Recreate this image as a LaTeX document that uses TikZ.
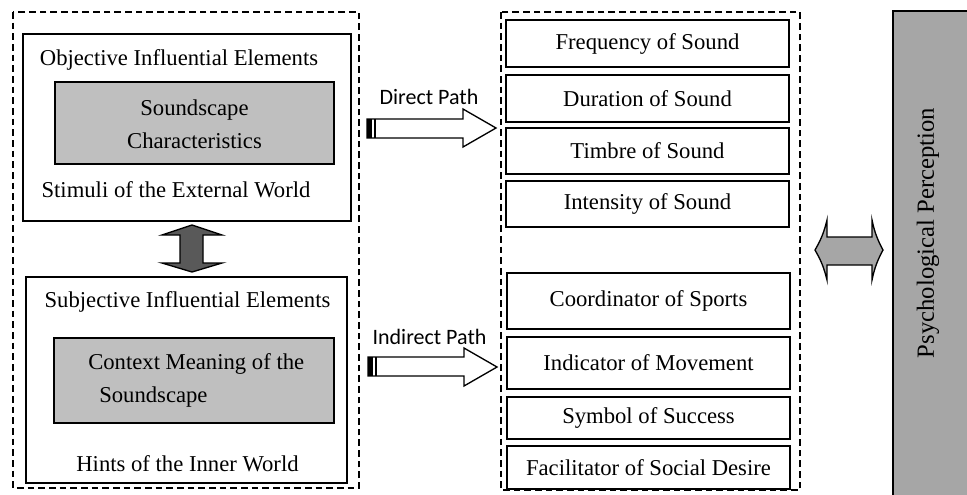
\documentclass[tikz,border=0pt]{standalone}
\usepackage{fontspec}
\setmainfont{Liberation Serif}
\newfontfamily\pathfont{Carlito}
\usetikzlibrary{positioning,calc}

\definecolor{coregray}{HTML}{BFBFBF}
\definecolor{linkgray}{HTML}{595959}
\definecolor{percgray}{HTML}{A6A6A6}

\begin{document}
\begin{tikzpicture}[x=0.75pt,y=-0.75pt,
    every node/.style={font=\fontsize{17}{24.75}\selectfont,inner sep=0pt},
    group/.style={draw,dashed,line width=0.9pt,dash pattern=on 5pt off 3pt},
    panel/.style={draw,line width=1pt},
    core/.style={draw,line width=1pt,fill=coregray},
    item/.style={draw,line width=1pt,minimum width=283*0.75pt},
    pathlabel/.style={font=\pathfont\fontsize{16.5}{20}\selectfont},
    blockarrow/.style={draw,line width=1pt,fill=white,line join=miter}]

  \useasboundingbox (0,0) rectangle (967,494);

  % Groups (dashed frames)
  \draw[group] (13,12) rectangle (359,488);
  \draw[group] (501,12) rectangle (800,490);

  % Objective elements
  \draw[panel] (23,34) rectangle (351,221);
  \draw[core] (55,82) rectangle (334,164);
  \node (objtitle) at (179,60) {Objective Influential Elements};
  \node[align=center] (soundchar) at (194.5,124) {Soundscape\\Characteristics};
  \node (stimuli) at (176,190) {Stimuli of the External World};

  % Subjective elements
  \draw[panel] (26,277) rectangle (347,483);
  \draw[core] (54,338) rectangle (334,423);
  \node (subtitle) at (187.5,302) {Subjective Influential Elements};
  \node[anchor=west] (ctxa) at (88,364) {Context Meaning of the};
  \node[anchor=west] (ctxb) at (99,397) {Soundscape};
  \node (hints) at (187.5,464) {Hints of the Inner World};

  % Link between the two kinds of elements
  \draw[line width=1pt,fill=linkgray,line join=miter]
    (180,235) -- (162,235) -- (192,225) -- (222,235) -- (203,235)
    -- (203,263) -- (222,263) -- (192,272) -- (162,263) -- (180,263) -- cycle;

  % Acoustic features
  \node[item,minimum height=47*0.75pt] (freq)  at (647.5,43.5) {Frequency of Sound};
  \node[item,minimum height=47*0.75pt] (dur)   at (647.5,98.5) {Duration of Sound};
  \node[item,minimum height=46*0.75pt] (timb)  at (647.5,151)  {Timbre of Sound};
  \node[item,minimum height=46*0.75pt] (inten) at (647.5,204)  {Intensity of Sound};

  % Functional meanings
  \node[item,minimum height=56*0.75pt] (coord) at (648.5,301)   {Coordinator of Sports};
  \node[item,minimum height=52*0.75pt] (indic) at (648.5,363)   {Indicator of Movement};
  \node[item,minimum height=42*0.75pt] (symb)  at (648.5,418)   {Symbol of Success};
  \node[item,minimum height=43*0.75pt] (facil) at (648.5,467.5) {Facilitator of Social Desire};

  % Direct path
  \draw[blockarrow] (367,119) -- (463,119) -- (463,109) -- (496,128)
    -- (463,147) -- (463,138) -- (367,138) -- cycle;
  \fill (367,119) rectangle (372,138);
  \draw[line width=0.8pt] (375,119) -- (375,138);
  \node[pathlabel] (direct) at (429,97) {Direct Path};

  % Indirect path
  \draw[blockarrow] (368,357) -- (464,357) -- (464,348) -- (497,367)
    -- (464,386) -- (464,376) -- (368,376) -- cycle;
  \fill (368,357) rectangle (373,376);
  \draw[line width=0.8pt] (376,357) -- (376,376);
  \node[pathlabel] (indirect) at (429.5,337) {Indirect Path};

  % Perception
  \draw[line width=1pt,fill=percgray] (893,11) rectangle (975,500);
  \node[rotate=90,font=\fontsize{18.5}{22}\selectfont] (perc) at (928,233) {Psychological Perception};

  \draw[line width=1pt,fill=percgray,line join=miter]
    (827,237) -- (827,220) to[bend left=8] (815,250) to[bend left=8] (827,280) -- (827,265)
    -- (872,265) -- (872,280) to[bend left=8] (883,250) to[bend left=8] (872,220) -- (872,237) -- cycle;

\end{tikzpicture}
\end{document}
